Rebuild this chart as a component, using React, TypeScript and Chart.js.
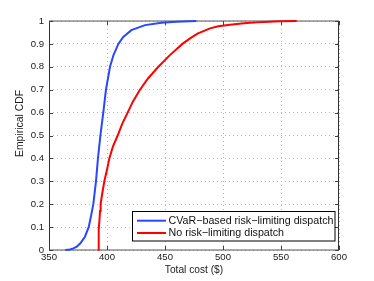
import React, { useEffect, useRef } from 'react';
import { Chart, registerables } from 'chart.js';

Chart.register(...registerables);

// ---- Data ----
const cvarCost = [364, 368, 371, 374, 377, 381, 384.2, 386.3, 388.2, 390.5, 392.2, 394.3, 396.8, 399.1, 402.6, 405.5, 409.8, 414, 421, 432.8, 447, 460, 477];
const cvarCdf = [0, 0.002, 0.007, 0.015, 0.029, 0.058, 0.1, 0.15, 0.2, 0.3, 0.4, 0.5, 0.6, 0.7, 0.8, 0.85, 0.9, 0.93, 0.96, 0.982, 0.992, 0.997, 1];

const noRlCost = [392.5, 392.7, 393, 393.5, 394, 394.5, 396, 397.7, 400, 402, 405, 409.2, 413, 417.8, 422.5, 428.4, 435.5, 444.3, 454, 465, 471.6, 478, 488.8, 496, 506, 518, 529, 540, 549, 563.5];
const noRlCdf = [0, 0.05, 0.09, 0.13, 0.17, 0.2, 0.25, 0.3, 0.35, 0.4, 0.45, 0.5, 0.55, 0.6, 0.65, 0.7, 0.75, 0.8, 0.85, 0.9, 0.924, 0.945, 0.968, 0.977, 0.984, 0.99, 0.994, 0.997, 0.999, 1];

const seriesLabels = ['CVaR\u2212based risk\u2212limiting dispatch', 'No risk\u2212limiting dispatch'];
const seriesColors = ['#2a46ff', '#ff0000'];

const xTickValues = [350, 400, 450, 500, 550, 600];
const xTickLabels = ['350', '400', '450', '500', '550', '600'];
const yTickValues = [0, 0.1, 0.2, 0.3, 0.4, 0.5, 0.6, 0.7, 0.8, 0.9, 1];
const yTickLabels = ['0', '0.1', '0.2', '0.3', '0.4', '0.5', '0.6', '0.7', '0.8', '0.9', '1'];

const xTitle = 'Total cost ($)';
const yTitle = 'Empirical CDF';

const FONT = "'Liberation Sans', Arial, Helvetica, sans-serif";

const framePlugin = {
  id: 'frame',
  beforeDatasetsDraw(chart: any) {
    const { ctx, chartArea: a, scales } = chart;
    const xs = scales.x;
    const ys = scales.y;
    ctx.save();
    // box
    ctx.lineWidth = 1;
    ctx.strokeStyle = '#303030';
    ctx.beginPath();
    ctx.moveTo(a.left + 0.5, a.top);
    ctx.lineTo(a.left + 0.5, a.bottom);
    ctx.moveTo(a.right - 0.5, a.top);
    ctx.lineTo(a.right - 0.5, a.bottom);
    ctx.stroke();
    ctx.strokeStyle = '#555555';
    ctx.beginPath();
    ctx.moveTo(a.left, a.top);
    ctx.lineTo(a.right, a.top);
    ctx.moveTo(a.left, a.bottom);
    ctx.lineTo(a.right, a.bottom);
    ctx.stroke();
    // inward tick marks
    ctx.strokeStyle = '#404040';
    ctx.beginPath();
    xTickValues.forEach((v) => {
      const px = Math.round(xs.getPixelForValue(v)) + 0.5;
      ctx.moveTo(px, a.bottom);
      ctx.lineTo(px, a.bottom - 4);
      ctx.moveTo(px, a.top);
      ctx.lineTo(px, a.top + 4);
    });
    yTickValues.forEach((v) => {
      const py = Math.round(ys.getPixelForValue(v)) + 0.5;
      ctx.moveTo(a.left, py);
      ctx.lineTo(a.left + 4, py);
      ctx.moveTo(a.right, py);
      ctx.lineTo(a.right - 4, py);
    });
    ctx.stroke();
    // y axis title
    ctx.fillStyle = '#1a1a1a';
    ctx.font = `10.4px ${FONT}`;
    ctx.textAlign = 'center';
    ctx.textBaseline = 'middle';
    ctx.translate(20.5, (a.top + a.bottom) / 2 - 12);
    ctx.rotate(-Math.PI / 2);
    ctx.fillText(yTitle, 0, 0);
    ctx.restore();
  },
  afterDatasetsDraw(chart: any) {
    const { ctx, chartArea: a } = chart;
    ctx.save();
    ctx.font = `10.7px ${FONT}`;
    const labels = chart.data.datasets.map((d: any) => d.label as string);
    const tw = Math.max(...labels.map((l: string) => ctx.measureText(l).width));
    const lineLen = 29;
    const padL = 4.5;
    const gap = 2.5;
    const padR = 2;
    const w = padL + lineLen + gap + tw + padR;
    const h = 30.5;
    const right = a.right - 4;
    const bottom = a.bottom - 9;
    const left = Math.round(right - w) + 0.5;
    const top = Math.round(bottom - h) + 0.5;
    ctx.fillStyle = '#ffffff';
    ctx.fillRect(left, top, right - left, bottom - top);
    ctx.strokeStyle = '#000000';
    ctx.lineWidth = 1;
    ctx.strokeRect(left, top, right - left, bottom - top);
    const rowY = [top + 9.2, top + 21.5];
    chart.data.datasets.forEach((d: any, i: number) => {
      ctx.strokeStyle = d.borderColor;
      ctx.lineWidth = 2;
      ctx.beginPath();
      ctx.moveTo(left + padL, rowY[i]);
      ctx.lineTo(left + padL + lineLen, rowY[i]);
      ctx.stroke();
      ctx.fillStyle = '#111111';
      ctx.textAlign = 'left';
      ctx.textBaseline = 'middle';
      ctx.fillText(d.label, left + padL + lineLen + gap, rowY[i] + 0.5);
    });
    ctx.restore();
  },
};

export default function App() {
  const ref = useRef<HTMLCanvasElement | null>(null);

  useEffect(() => {
    if (!ref.current) return;
    const makeData = (xs: number[], ys: number[]) => xs.map((x, i) => ({ x, y: ys[i] }));
    const chart = new Chart(ref.current, {
      type: 'scatter',
      data: {
        datasets: [
          {
            label: seriesLabels[0],
            data: makeData(cvarCost, cvarCdf),
            borderColor: seriesColors[0],
            backgroundColor: seriesColors[0],
            showLine: true,
            borderWidth: 2,
            pointRadius: 0,
            tension: 0,
            clip: 4,
          },
          {
            label: seriesLabels[1],
            data: makeData(noRlCost, noRlCdf),
            borderColor: seriesColors[1],
            backgroundColor: seriesColors[1],
            showLine: true,
            borderWidth: 2,
            pointRadius: 0,
            tension: 0,
            clip: 4,
          },
        ],
      },
      options: {
        responsive: false,
        animation: false,
        devicePixelRatio: 1,
        layout: { padding: { left: 0, right: 35, top: 21, bottom: 0 } },
        plugins: {
          legend: { display: false },
          tooltip: { enabled: false },
        },
        scales: {
          x: {
            type: 'linear',
            min: 350,
            max: 600,
            afterBuildTicks: (s: any) => {
              s.ticks = xTickValues.map((v) => ({ value: v }));
            },
            afterFit: (s: any) => {
              s.height = 31;
            },
            ticks: {
              autoSkip: false,
              maxRotation: 0,
              padding: 2,
              color: '#1a1a1a',
              font: { family: FONT, size: 9.6 },
              callback: (_v: any, i: number) => xTickLabels[i],
            },
            grid: { color: '#b8b8b8', lineWidth: 1, drawTicks: false },
            border: { display: false, dash: [1, 3] },
            title: {
              display: true,
              text: xTitle,
              color: '#1a1a1a',
              font: { family: FONT, size: 10.2 },
              padding: { top: 0, bottom: 4.5 },
            },
          },
          y: {
            type: 'linear',
            min: 0,
            max: 1,
            afterBuildTicks: (s: any) => {
              s.ticks = yTickValues.map((v) => ({ value: v }));
            },
            afterFit: (s: any) => {
              s.width = 49;
            },
            ticks: {
              autoSkip: false,
              padding: 5,
              color: '#1a1a1a',
              font: { family: FONT, size: 9.6 },
              callback: (_v: any, i: number) => yTickLabels[i],
            },
            grid: { color: '#b8b8b8', lineWidth: 1, drawTicks: false },
            border: { display: false, dash: [1, 3] },
          },
        },
      },
      plugins: [framePlugin],
    } as any);
    return () => chart.destroy();
  }, []);

  return (
    <div style={{ position: 'absolute', left: 0, top: 0, width: 374, height: 281, background: '#ffffff' }}>
      <canvas ref={ref} width={374} height={281} style={{ display: 'block', width: 374, height: 281 }} />
    </div>
  );
}
